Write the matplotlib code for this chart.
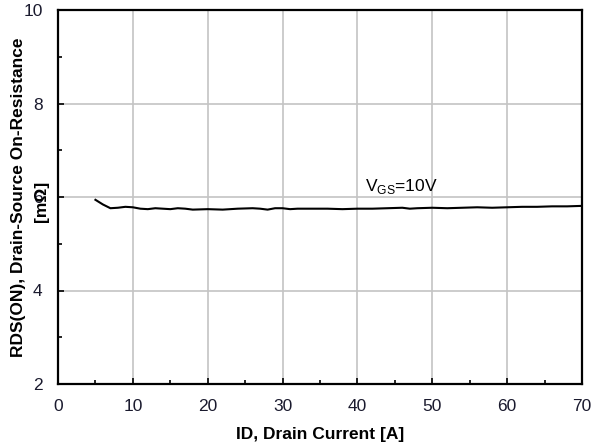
import matplotlib
matplotlib.use("Agg")
import matplotlib.pyplot as plt
from matplotlib.ticker import MultipleLocator

plt.rcParams['font.family'] = ['Liberation Sans', 'DejaVu Sans']

# drain current [A] and on-resistance [mOhm]
drain_current = [5, 6, 7, 8, 9, 10, 11, 12, 13, 14, 15, 16, 17, 18, 20, 22, 24, 26, 27,
                 28, 29, 30, 31, 32, 34, 36, 38, 40, 42, 44, 46, 47, 48, 50, 52, 54, 56,
                 58, 60, 62, 64, 66, 68, 70]
rds_on = [5.94, 5.84, 5.76, 5.77, 5.79, 5.78, 5.75, 5.74, 5.76, 5.75, 5.74, 5.76, 5.75,
          5.73, 5.74, 5.73, 5.75, 5.76, 5.75, 5.73, 5.76, 5.76, 5.74, 5.75, 5.75, 5.75,
          5.74, 5.75, 5.75, 5.76, 5.77, 5.75, 5.76, 5.77, 5.76, 5.77, 5.78, 5.77, 5.78,
          5.79, 5.79, 5.80, 5.80, 5.81]

fig = plt.figure(figsize=(6.09, 4.46), dpi=100)
ax = fig.add_axes([58 / 609, 1 - 384 / 446, (582 - 58) / 609, (384 - 10) / 446])

ax.plot(drain_current, rds_on, color='black', lw=1.5, zorder=3)

ax.set_xlim(0, 70)
ax.set_ylim(2, 10)
ax.xaxis.set_major_locator(MultipleLocator(10))
ax.xaxis.set_minor_locator(MultipleLocator(5))
ax.yaxis.set_major_locator(MultipleLocator(2))
ax.yaxis.set_minor_locator(MultipleLocator(1))
ax.grid(True, which='major', color='#c4c4c4', lw=1.2, zorder=1)
ax.set_axisbelow(True)

for s in ax.spines.values():
    s.set_linewidth(1.6)
ax.tick_params(which='both', direction='in', width=1.2, colors='black',
               labelcolor='#1a1a2e', labelsize=12.5, pad=11)
ax.tick_params(which='major', length=4)
ax.tick_params(which='minor', length=3)

ax.text(41, 6.12, r'V$_{\mathregular{GS}}$=10V', fontsize=12.5, color='black')

ax.set_xlabel('ID, Drain Current [A]', fontsize=12.5, fontweight='bold', labelpad=9)
ax.set_ylabel('RDS(ON), Drain-Source On-Resistance', fontsize=12.5, fontweight='bold')
ax.yaxis.set_label_coords(-0.062, 0.5)
# unit line sits on top of the "6" tick label, like in the datasheet
fig.text(41 / 609, 1 - 201 / 446, '[m\u03a9]', rotation=90, ha='center', va='center',
         fontsize=12.5, fontweight='bold')

fig.savefig('out.png', dpi=100)
